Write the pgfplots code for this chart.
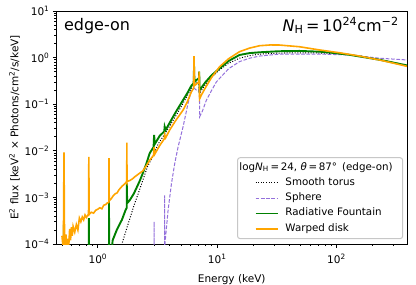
\documentclass[border=0pt]{standalone}
\usepackage{fontspec}
\setmainfont{DejaVu Sans}
\usepackage{pgfplots}
\pgfplotsset{compat=1.18}
\definecolor{mporange}{HTML}{FFA500}
\definecolor{mpgreen}{HTML}{008000}
\definecolor{mppurple}{HTML}{9370DB}
\definecolor{legframe}{gray}{0.78}
\begin{document}
\begin{tikzpicture}
\begin{axis}[
  at={(0,0)}, anchor=south west,
  xmode=log, ymode=log, scale only axis,
  width=350.5bp, height=233bp,
  xmin=0.45, xmax=390, ymin=1e-4, ymax=10,
  tick align=outside, tick pos=left,
  major tick length=3.6bp, minor tick length=2.1bp,
  every tick/.style={black, line width=0.8bp},
  every minor tick/.style={black, line width=0.6bp},
  axis line style={line width=0.8bp},
  xtick={1,10,100},
  xticklabels={10\textsuperscript{0},10\textsuperscript{1},10\textsuperscript{2}},
  minor xtick={0.5,0.6,0.7,0.8,0.9,2,3,4,5,6,7,8,9,20,30,40,50,60,70,80,90,200,300},
  ytick={1e-4,1e-3,1e-2,1e-1,1,10},
  yticklabels={10\textsuperscript{−4},10\textsuperscript{−3},10\textsuperscript{−2},10\textsuperscript{−1},10\textsuperscript{0},10\textsuperscript{1}},
  minor ytick={2e-4,3e-4,4e-4,5e-4,6e-4,7e-4,8e-4,9e-4,2e-3,3e-3,4e-3,5e-3,6e-3,7e-3,8e-3,9e-3,2e-2,3e-2,4e-2,5e-2,6e-2,7e-2,8e-2,9e-2,0.2,0.3,0.4,0.5,0.6,0.7,0.8,0.9,2,3,4,5,6,7,8,9},
  tick label style={font=\fontsize{10.5bp}{12bp}\selectfont},
  xticklabel style={yshift=-3bp},
  label style={font=\fontsize{10.5bp}{12bp}\selectfont},
  xlabel style={yshift=-4bp},
  ylabel style={yshift=-2bp},
  xlabel={Energy (keV)},
  ylabel={E\textsuperscript{2} flux [keV\textsuperscript{2} × Photons/cm\textsuperscript{2}/s/keV]},
  legend cell align=left,
  legend image code/.code={\path (-9bp,0bp); \draw[#1] (0bp,0bp) -- (22bp,0bp);},
  legend style={at={(0.989,0.021)}, anchor=south east,
    font=\fontsize{10.3bp}{12bp}\selectfont,
    draw=legframe, line width=1bp, rounded corners=2.5bp, fill=white,
    inner xsep=8bp, inner ysep=2.2bp, column sep=5bp,
    nodes={inner xsep=2bp, inner ysep=2.65bp, text height=7.5bp, text depth=2.5bp}},
]
\addlegendimage{empty legend}
\addlegendentry{\hspace{-46bp}log{\itshape N}\textsubscript{H}\,=\,24, {\itshape θ}\,=\,87°\, (edge-on)}
% Smooth torus
\addplot[black, line width=1bp, dash pattern=on 1bp off 1.65bp] coordinates {
(1.50,5e-5) (1.59,1e-4) (1.75,2.2e-4) (2.0,6.5e-4) (2.3,1.8e-3) (2.6,4.5e-3) (2.88,7.5e-3)
(3.2,1.4e-2) (3.6,2.2e-2) (4.0,3.4e-2) (4.5,5.6e-2) (5.18,0.105) (5.6,0.15) (6.08,0.22)
(6.35,0.25) (6.4,0.40) (6.45,0.27) (7.0,0.31) (7.12,0.17) (7.5,0.21) (8.0,0.27) (9.0,0.38)
(10.5,0.55) (12.5,0.76) (15.4,0.97) (18.7,1.10) (22.7,1.19) (33,1.25) (49,1.27) (80,1.25)
(110,1.2) (160,1.08) (229,0.90) (300,0.78) (390,0.68)
};
\addlegendentry{Smooth torus}
% Sphere
\addplot[mppurple, line width=1bp, dash pattern=on 3.7bp off 1.6bp] coordinates {
(2.90,1e-6) (2.955,1e-6) (2.96,3.0e-4) (2.965,1e-6) (3.62,1e-6) (3.63,1.1e-3) (3.64,1e-5)
(3.65,1.0e-4) (3.88,5.4e-4) (4.14,2.0e-3) (4.41,5.4e-3) (4.70,0.012) (5.18,0.033)
(5.7,0.104) (6.08,0.2) (6.38,0.22) (6.4,0.28) (6.42,0.22) (6.7,0.2) (7.0,0.19) (7.06,0.22)
(7.1,0.16) (7.14,0.054) (7.5,0.07) (8.1,0.12) (9.0,0.2) (9.84,0.30) (10.5,0.36) (12.5,0.58)
(15.4,0.82) (18.7,0.97) (22.7,1.08) (33.3,1.19) (72,1.19) (128,1.14) (229,0.97) (390,0.89)
};
\addlegendentry{Sphere}
% Radiative fountain
\addplot[mpgreen, line width=1.9bp] coordinates {
(0.50,1e-6) (0.515,1e-6) (0.518,2.6e-4) (0.522,1e-6) (0.835,1e-6) (0.84,3.6e-4) (0.845,1e-6)
(1.235,1e-6) (1.24,1.0e-3) (1.245,1e-6) (1.29,5e-5) (1.33,1.2e-4) (1.44,2.0e-4) (1.59,3.3e-4)
(1.70,5.2e-4) (1.745,6.0e-4) (1.75,2.0e-3) (1.76,7.5e-4) (1.85,8.7e-4) (2.0,1.2e-3)
(2.12,1.65e-3) (2.25,2.3e-3) (2.38,3.3e-3) (2.55,5.3e-3) (2.72,8.9e-3) (2.93,1.2e-2)
(2.96,2.2e-2) (3.0,1.4e-2) (3.3,2.1e-2) (3.6,2.6e-2) (3.63,3.3e-2) (3.7,2.8e-2) (4.0,4.0e-2)
(4.5,6.8e-2) (5.18,0.123) (5.6,0.17) (6.08,0.25) (6.35,0.28) (6.4,0.65) (6.45,0.30) (6.8,0.34)
(7.03,0.36) (7.06,0.50) (7.09,0.36) (7.12,0.20) (7.5,0.24) (8.0,0.30) (9.0,0.42) (10.5,0.59)
(12.5,0.85) (15.4,1.14) (18.7,1.25) (22.7,1.30) (33,1.37) (49,1.39) (72,1.34) (92,1.27)
(128,1.15) (229,0.90) (390,0.68)
};
\addlegendentry{Radiative Fountain}
% Warped disk
\addplot[mporange, line width=1.6bp] coordinates {
(0.50,1.5e-4) (0.51,9e-5) (0.515,2e-4) (0.52,9.3e-3) (0.525,2e-4) (0.53,8e-5) (0.54,1.6e-4)
(0.55,7e-5) (0.56,1.3e-4) (0.57,9e-5) (0.58,2.1e-4) (0.59,1.2e-4) (0.60,2.3e-4) (0.61,1.5e-4)
(0.62,2.4e-4) (0.64,1.8e-4) (0.66,2.6e-4) (0.68,2.0e-4) (0.70,3.6e-4) (0.72,3.0e-4)
(0.74,3.8e-4) (0.76,3.3e-4) (0.78,4.2e-4) (0.80,3.7e-4) (0.835,4.4e-4) (0.84,7.4e-3)
(0.845,4.3e-4) (0.88,4.8e-4) (0.92,4.6e-4) (0.96,5.3e-4) (1.00,5.6e-4) (1.04,6.0e-4)
(1.08,5.7e-4) (1.12,6.8e-4) (1.16,7.0e-4) (1.20,7.6e-4) (1.235,7.8e-4) (1.24,7.0e-3)
(1.245,8.5e-4) (1.30,9.5e-4) (1.35,1.1e-3) (1.40,1.2e-3) (1.45,1.25e-3) (1.50,1.45e-3)
(1.55,1.6e-3) (1.60,1.75e-3) (1.66,1.9e-3) (1.72,2.1e-3) (1.745,2.0e-3) (1.75,1.5e-2)
(1.755,2.2e-3) (1.85,2.3e-3) (1.95,2.5e-3) (2.05,2.8e-3) (2.2,3.2e-3) (2.38,3.7e-3)
(2.55,4.8e-3) (2.72,6.3e-3) (2.93,8.0e-3) (2.96,1.2e-2) (3.0,8.5e-3) (3.3,1.3e-2)
(3.6,1.8e-2) (3.63,2.2e-2) (3.7,1.9e-2) (4.0,2.8e-2) (4.5,4.5e-2) (5.18,7.5e-2) (5.6,0.11)
(6.08,0.185) (6.35,0.22) (6.4,1.08) (6.45,0.25) (6.7,0.27) (7.03,0.30) (7.06,0.50) (7.09,0.28)
(7.12,0.13) (7.4,0.16) (8.0,0.23) (9.0,0.38) (10.5,0.64) (12.5,0.95) (15.4,1.34) (18.7,1.6)
(22.7,1.80) (28,1.87) (33.3,1.86) (49,1.71) (72,1.46) (106,1.27) (156,1.08) (229,0.89)
(300,0.76) (390,0.65)
};
\addlegendentry{Warped disk}
\node[anchor=base west, font=\fontsize{16bp}{18bp}\selectfont, inner sep=0pt] at (rel axis cs:0.021,0.918) {edge-on};
\node[anchor=base east, font=\fontsize{16bp}{18bp}\selectfont, inner sep=0pt] at (rel axis cs:0.977,0.913) {{\itshape N}\textsubscript{H}\,=\,10\textsuperscript{24}cm\textsuperscript{−2}};
\end{axis}
\pgfresetboundingbox
\path (-56.5bp,-41bp) rectangle (359.5bp,244bp);
\end{tikzpicture}
\end{document}
